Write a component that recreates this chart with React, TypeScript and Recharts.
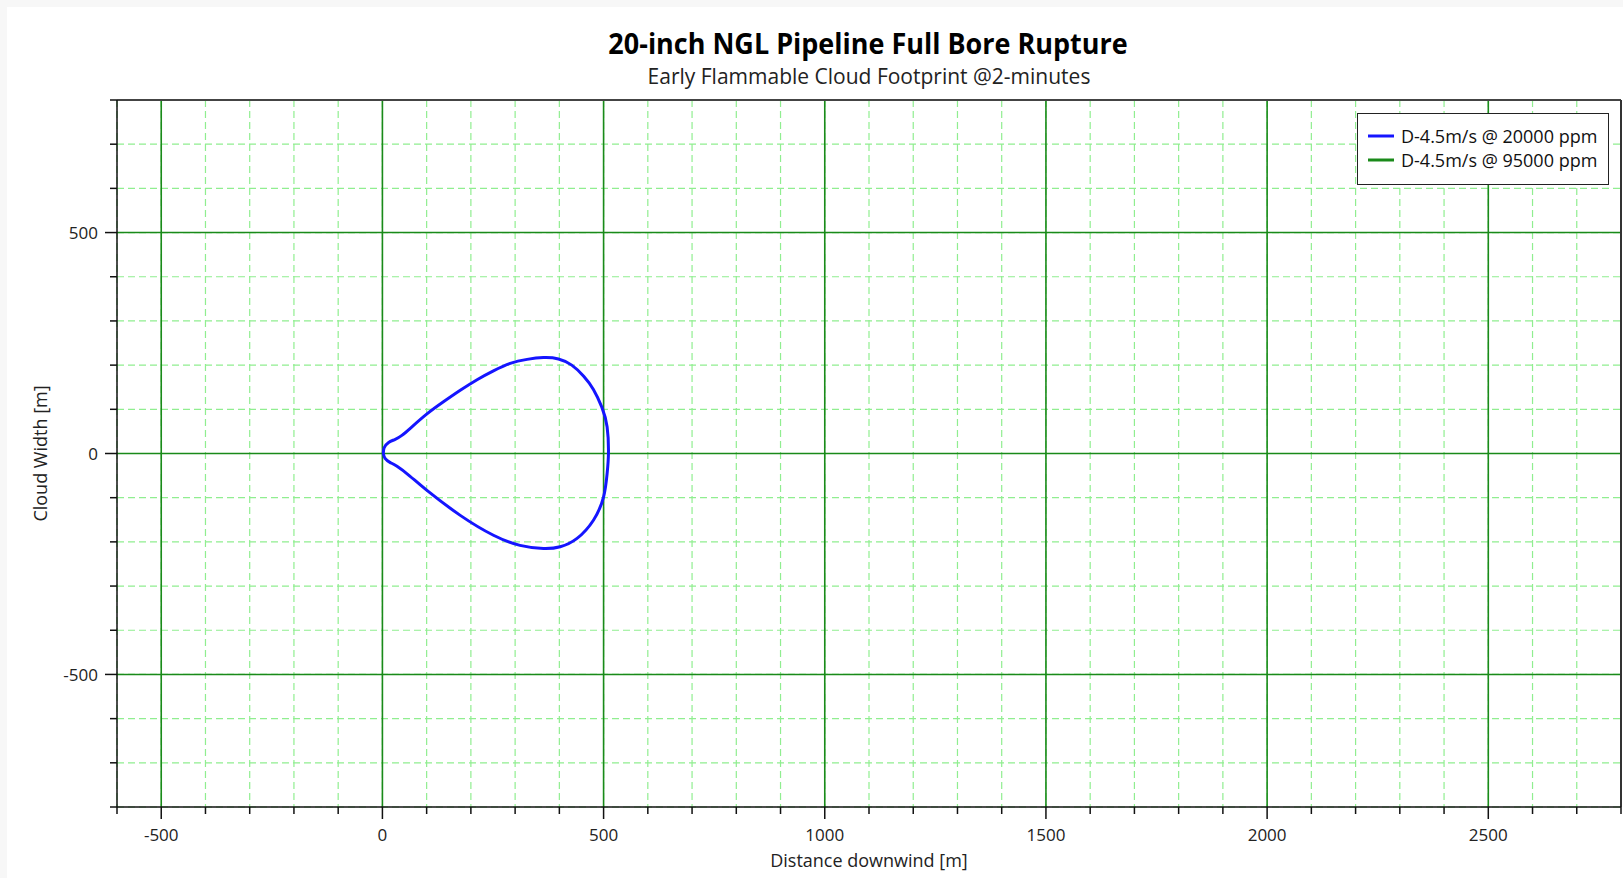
import React from "react"
import { LineChart, Line, XAxis, YAxis, CartesianGrid, ReferenceLine, Legend, Label } from "recharts"

// cloud outline @ 20000 ppm, traced clockwise from the release point
const cloud20000 = [
  { x: 2, y: 0 }, { x: 4, y: 13 }, { x: 14, y: 25 }, { x: 29, y: 32 }, { x: 44, y: 41 },
  { x: 63, y: 57 }, { x: 100, y: 89 }, { x: 138, y: 117 }, { x: 176, y: 143 }, { x: 214, y: 167 },
  { x: 251, y: 187 }, { x: 289, y: 204 }, { x: 327, y: 213 }, { x: 364, y: 217 }, { x: 398, y: 214 },
  { x: 428, y: 200 }, { x: 455, y: 175 }, { x: 477, y: 145 }, { x: 496, y: 105 }, { x: 508, y: 60 },
  { x: 511, y: 0 }, { x: 508, y: -45 }, { x: 500, y: -98 }, { x: 477, y: -151 }, { x: 440, y: -192 },
  { x: 402, y: -211 }, { x: 364, y: -215 }, { x: 311, y: -208 }, { x: 251, y: -185 }, { x: 176, y: -140 },
  { x: 100, y: -83 }, { x: 62, y: -51 }, { x: 33, y: -29 }, { x: 17, y: -20 }, { x: 6, y: -11 },
  { x: 2, y: 0 },
]
// 95000 ppm footprint does not show up at 2 minutes
const cloud95000: { x: number; y: number }[] = []

const xDomain = [-600, 2800]
const yDomain = [-800, 800]
const xTicks = [
  -600, -500, -400, -300, -200, -100, 0, 100, 200, 300, 400, 500, 600, 700, 800, 900, 1000,
  1100, 1200, 1300, 1400, 1500, 1600, 1700, 1800, 1900, 2000, 2100, 2200, 2300, 2400, 2500,
  2600, 2700, 2800,
]
const yTicks = [-800, -700, -600, -500, -400, -300, -200, -100, 0, 100, 200, 300, 400, 500, 600, 700, 800]
const xMajor = [-500, 0, 500, 1000, 1500, 2000, 2500]
const yMajor = [-500, 0, 500]

const FONT = "'Open Sans', 'Noto Sans', sans-serif"
const MAJOR_GREEN = "#1a8a1a"

const XTick = (props: any) => {
  const { x, y, payload } = props
  const major = xMajor.includes(payload.value)
  return (
    <g>
      <line x1={x} x2={x} y1={y} y2={y + (major ? 12 : 7)} stroke="#111" strokeWidth={1.5} />
      {major && (
        <text x={x} y={y + 27} textAnchor="middle" dominantBaseline="central" fontSize={17} fill="#222" fontFamily={FONT}>
          {payload.value}
        </text>
      )}
    </g>
  )
}

const YTick = (props: any) => {
  const { x, y, payload } = props
  const major = yMajor.includes(payload.value)
  return (
    <g>
      <line x1={x} x2={x - (major ? 12 : 7)} y1={y} y2={y} stroke="#111" strokeWidth={1.5} />
      {major && (
        <text x={x - 19} y={y} textAnchor="end" dominantBaseline="central" fontSize={17} fill="#222" fontFamily={FONT}>
          {payload.value}
        </text>
      )}
    </g>
  )
}

const LegendBox = ({ payload }: any) => (
  <div
    style={{
      width: 252,
      height: 72,
      boxSizing: "border-box",
      border: "1.5px solid #222",
      background: "#fff",
      padding: "10px 0 0 10px",
      fontFamily: FONT,
    }}
  >
    {(payload || []).map((p: any) => (
      <div key={p.value} style={{ display: "flex", alignItems: "center", height: 24 }}>
        <svg width={26} height={4}>
          <line x1={0} x2={26} y1={2} y2={2} stroke={p.color} strokeWidth={3} />
        </svg>
        <span style={{ marginLeft: 7, fontSize: 18, color: "#111", lineHeight: "24px" }}>{p.value}</span>
      </div>
    ))}
  </div>
)

export default function App() {
  return (
    <div style={{ position: "absolute", left: 0, top: 0, width: 1623, height: 878, background: "#f7f7f7", overflow: "hidden" }}>
      <div style={{ position: "absolute", left: 7, top: 7, right: 0, bottom: 0, background: "#fff" }} />
      <div
        style={{
          position: "absolute",
          left: 868,
          top: 42,
          transform: "translate(-50%, -50%) scaleX(0.93)",
          whiteSpace: "nowrap",
          fontFamily: FONT,
          fontWeight: 700,
          fontSize: 29,
          color: "#000",
        }}
      >
        20-inch NGL Pipeline Full Bore Rupture
      </div>
      <div
        style={{
          position: "absolute",
          left: 869,
          top: 76,
          transform: "translate(-50%, -50%)",
          whiteSpace: "nowrap",
          fontFamily: FONT,
          fontSize: 21,
          color: "#222",
        }}
      >
        Early Flammable Cloud Footprint @2-minutes
      </div>
      <div style={{ position: "absolute", left: 0, top: 0 }}>
        <LineChart width={1623} height={878} margin={{ top: 100, right: 2, bottom: 0, left: 0 }}>
          <CartesianGrid stroke="#90ee90" strokeDasharray="7 4" strokeWidth={1.2} />
          <XAxis
            type="number"
            dataKey="x"
            domain={xDomain}
            ticks={xTicks}
            interval={0}
            height={71}
            tickSize={0}
            tickMargin={0}
            tick={<XTick />}
            axisLine={{ stroke: "#111", strokeWidth: 1.5 }}
            allowDataOverflow
          >
            <Label value="Distance downwind [m]" position="insideBottom" offset={11} fontSize={18} fill="#222" fontFamily={FONT} />
          </XAxis>
          <YAxis
            type="number"
            dataKey="y"
            domain={yDomain}
            ticks={yTicks}
            interval={0}
            width={117}
            tickSize={0}
            tickMargin={0}
            tick={<YTick />}
            axisLine={{ stroke: "#111", strokeWidth: 1.5 }}
            allowDataOverflow
          >
            <Label
              value="Cloud Width [m]"
              angle={-90}
              position="insideLeft"
              offset={41}
              fontSize={18}
              fill="#222"
              fontFamily={FONT}
              style={{ textAnchor: "middle" }}
            />
          </YAxis>
          {xMajor.map((v) => (
            <ReferenceLine key={"x" + v} x={v} stroke={MAJOR_GREEN} strokeWidth={1.6} />
          ))}
          {yMajor.map((v) => (
            <ReferenceLine key={"y" + v} y={v} stroke={MAJOR_GREEN} strokeWidth={1.6} />
          ))}
          <ReferenceLine y={yDomain[1]} stroke="#444" strokeWidth={2} />
          <ReferenceLine x={xDomain[1]} stroke="#333" strokeWidth={2} />
          <Legend
            layout="vertical"
            align="center"
            verticalAlign="middle"
            wrapperStyle={{ position: "absolute", left: 1357, top: 113, width: 252, height: 72 }}
            content={<LegendBox />}
          />
          <Line
            data={cloud20000}
            dataKey="y"
            name="D-4.5m/s @ 20000 ppm"
            type="natural"
            stroke="#1515ff"
            strokeWidth={3}
            dot={false}
            activeDot={false}
            isAnimationActive={false}
          />
          <Line
            data={cloud95000}
            dataKey="y"
            name="D-4.5m/s @ 95000 ppm"
            type="natural"
            stroke="#1a8a1a"
            strokeWidth={3}
            dot={false}
            activeDot={false}
            isAnimationActive={false}
          />
        </LineChart>
      </div>
    </div>
  )
}
